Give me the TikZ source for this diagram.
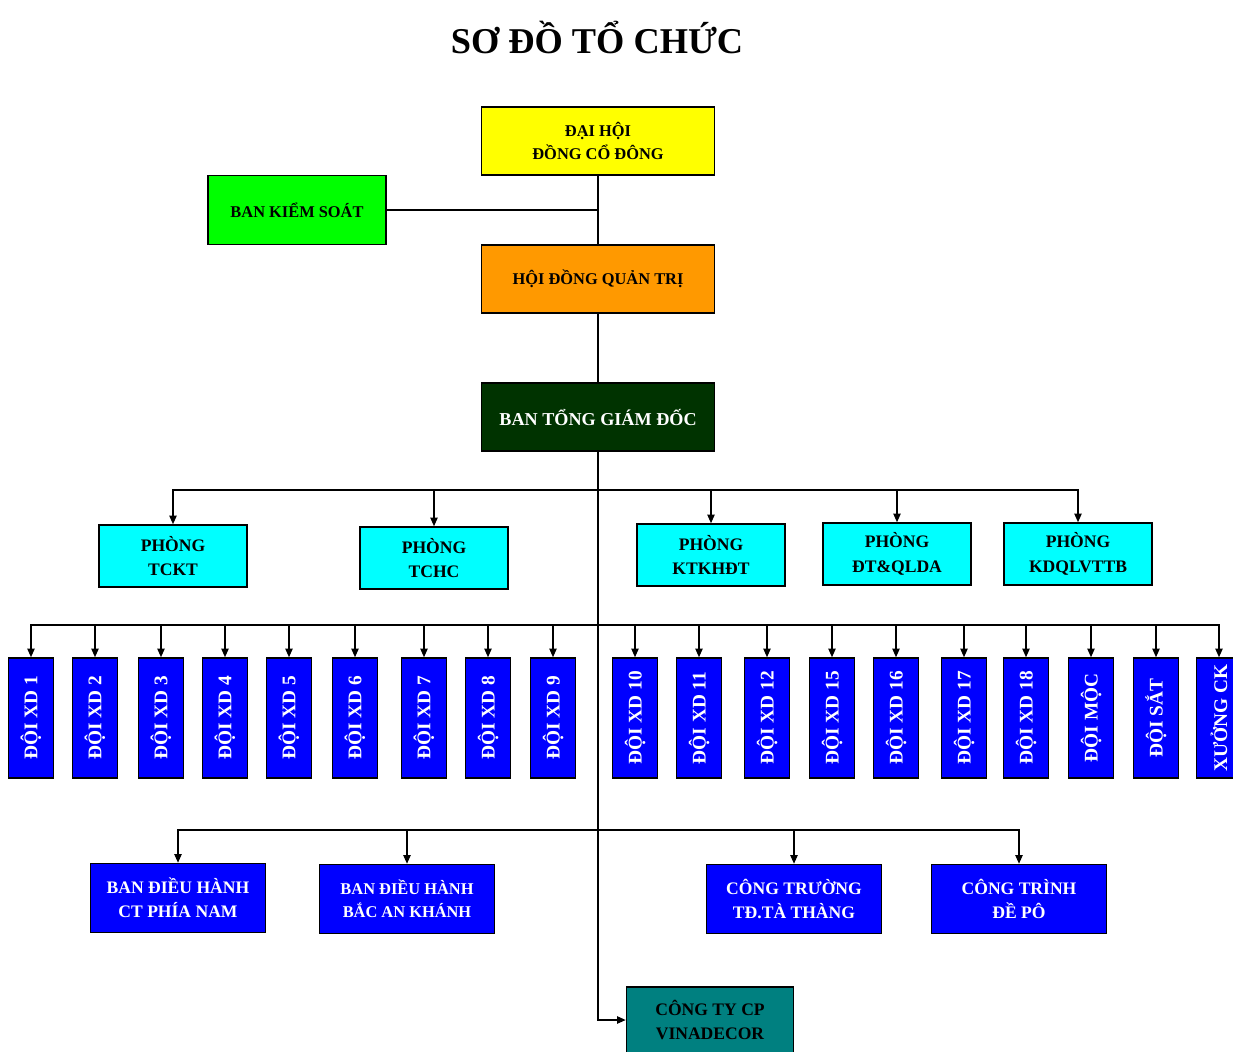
\documentclass[tikz,border=0pt]{standalone}
\usepackage{fontspec}
\setmainfont{Liberation Serif}
\usepackage{xcolor}
\definecolor{dhyellow}{RGB}{255,255,0}
\definecolor{bkgreen}{RGB}{0,255,0}
\definecolor{qtorange}{RGB}{255,153,0}
\definecolor{gddark}{RGB}{0,51,0}
\definecolor{phcyan}{RGB}{0,255,255}
\definecolor{doiblue}{RGB}{0,0,255}
\definecolor{vnteal}{RGB}{0,128,128}
\usetikzlibrary{arrows.meta}
\tikzset{
  box/.style={
    rectangle, draw=black, line width=1.3pt,
    align=center, inner sep=1pt,
    font=\fontsize{14}{19.5}\selectfont\bfseries},
  topbox/.style={
    box, minimum width=6.99cm, minimum height=2.04cm},
  phbox/.style={
    box, fill=phcyan, minimum width=4.44cm, minimum height=1.86cm,
    font=\fontsize{15}{21}\selectfont\bfseries},
  doibox/.style={
    box, fill=doiblue, text=white, rotate=90,
    minimum width=3.6cm, minimum height=1.35cm,
    font=\fontsize{16.5}{20}\selectfont\bfseries},
  banbox/.style={
    box, fill=doiblue, text=white,
    minimum width=5.25cm, minimum height=2.07cm,
    font=\fontsize{15}{20.5}\selectfont\bfseries},
  conn/.style={line width=1.2pt, black},
  arr/.style={conn, -{Triangle[length=2.6mm, width=2.2mm]}},
}

\begin{document}
\begin{tikzpicture}[x=0.03cm, y=-0.03cm]
  \useasboundingbox (0,0) rectangle (1233,1051);

  \node[font=\fontsize{31}{36}\selectfont\bfseries] (title) at (597,37)
    {SƠ ĐỒ TỔ CHỨC};

  % upper levels
  \node[topbox, fill=dhyellow] (dhcd) at (598,141)
    {ĐẠI HỘI\\ĐỒNG CỔ ĐÔNG};
  \node[box, fill=bkgreen, minimum width=5.34cm, minimum height=2.07cm]
    (bks) at (297,210) {BAN KIỂM SOÁT};
  \node[topbox, fill=qtorange] (hdqt) at (598,279)
    {HỘI ĐỒNG QUẢN TRỊ};
  \node[topbox, fill=gddark, text=white,
        font=\fontsize{15.5}{20}\selectfont\bfseries] (btgd) at (598,417)
    {BAN TỔNG GIÁM ĐỐC};

  \draw[conn] (dhcd.south) -- (hdqt.north);
  \draw[conn] (bks.east) -- (bks.east -| dhcd.south);
  \draw[conn] (hdqt.south) -- (btgd.north);

  % phong ban
  \coordinate (phbus) at (598,490);
  \node[phbox] (tckt) at (173,556) {PHÒNG\\TCKT};
  \node[phbox] (tchc) at (434,558) {PHÒNG\\TCHC};
  \node[phbox] (ktkh) at (711,555) {PHÒNG\\KTKHĐT};
  \node[phbox] (dtql) at (897,554) {PHÒNG\\ĐT\&QLDA};
  \node[phbox] (kdql) at (1078,554) {PHÒNG\\KDQLVTTB};
  \foreach \n in {tckt,tchc,ktkh,dtql,kdql}
    \draw[arr] (phbus) -| (\n.north);

  % doi xay dung
  \coordinate (doibus) at (598,625);
  \foreach \x/\n/\t in {31/d1/ĐỘI XD 1, 95/d2/ĐỘI XD 2, 161/d3/ĐỘI XD 3,
      225/d4/ĐỘI XD 4, 289/d5/ĐỘI XD 5, 355/d6/ĐỘI XD 6, 424/d7/ĐỘI XD 7,
      488/d8/ĐỘI XD 8, 553/d9/ĐỘI XD 9, 635/d10/ĐỘI XD 10,
      699/d11/ĐỘI XD 11, 767/d12/ĐỘI XD 12, 832/d15/ĐỘI XD 15,
      896/d16/ĐỘI XD 16, 964/d17/ĐỘI XD 17, 1026/d18/ĐỘI XD 18,
      1091/dmoc/ĐỘI MỘC, 1156/dsat/ĐỘI SẮT, 1219/xck/XƯỞNG CK} {
    \node[doibox] (\n) at (\x,718) {\t};
    \draw[arr] (doibus) -| (\n.east);
  }

  % ban dieu hanh, cong truong
  \coordinate (banbus) at (598,830);
  \node[banbox] (bdhn) at (178,898) {BAN ĐIỀU HÀNH\\CT PHÍA NAM};
  \node[banbox, font=\fontsize{14}{20}\selectfont\bfseries] (bdak)
    at (407,899) {BAN ĐIỀU HÀNH\\BẮC AN KHÁNH};
  \node[banbox] (cttt) at (794,899) {CÔNG TRƯỜNG\\TĐ.TÀ THÀNG};
  \node[banbox] (ctdp) at (1019,899) {CÔNG TRÌNH\\ĐỀ PÔ};
  \foreach \n in {bdhn,bdak,cttt,ctdp}
    \draw[arr] (banbus) -| (\n.north);

  % cong ty con
  \node[box, fill=vnteal, minimum width=5.01cm, minimum height=1.98cm,
        font=\fontsize{15}{21}\selectfont\bfseries] (vina) at (710,1020)
    {CÔNG TY CP\\VINADECOR};
  \draw[arr] (btgd.south) |- (vina.west);
\end{tikzpicture}
\end{document}
